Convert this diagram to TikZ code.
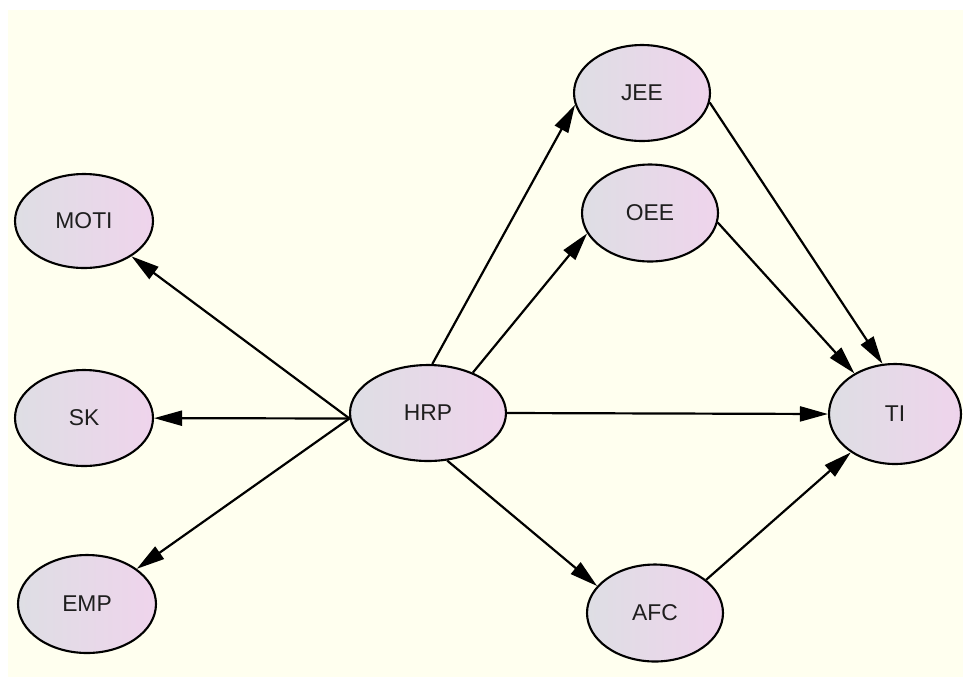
\documentclass[tikz,border=0pt]{standalone}
\usepackage{fontspec}
\setmainfont{Liberation Sans}
\usetikzlibrary{arrows.meta,shapes.geometric}

\definecolor{paper}{RGB}{255,255,239}
\definecolor{nodeleft}{RGB}{222,222,228}
\definecolor{noderight}{RGB}{239,212,236}
\definecolor{labelgray}{RGB}{30,30,30}

\tikzset{
  latent/.style={ellipse, draw=black, line width=1.2pt,
    left color=nodeleft, right color=noderight,
    inner sep=0pt, text=labelgray, font=\fontsize{13}{15}\selectfont},
  path/.style={draw=black, line width=1.25pt,
    -{Triangle[length=0.56cm, width=0.3cm]}},
}

\begin{document}
\begin{tikzpicture}[x=0.02cm, y=-0.02cm]
  % page and canvas
  \useasboundingbox (0,0) rectangle (963,677);
  \fill[white] (0,0) rectangle (963,677);
  \fill[paper] (8,10) rectangle (963,677);

  % constructs
  \node[latent, minimum width=2.76cm, minimum height=1.88cm] (MOTI) at (84,221) {MOTI};
  \node[latent, minimum width=2.76cm, minimum height=1.92cm] (SK)   at (84,418) {SK};
  \node[latent, minimum width=2.76cm, minimum height=1.96cm] (EMP)  at (87,604) {EMP};
  \node[latent, minimum width=3.12cm, minimum height=1.92cm] (HRP)  at (428,413) {HRP};
  \node[latent, minimum width=2.72cm, minimum height=1.92cm] (JEE)  at (642,93) {JEE};
  \node[latent, minimum width=2.72cm, minimum height=1.94cm] (OEE)  at (650,213) {OEE};
  \node[latent, minimum width=2.64cm, minimum height=2.00cm] (TI)   at (895,414) {TI};
  \node[latent, minimum width=2.72cm, minimum height=1.94cm] (AFC)  at (655,613) {AFC};

  % paths from HRP to the left-hand constructs
  \draw[path] (HRP.184) -- (MOTI);
  \draw[path] (HRP.184) -- (SK);
  \draw[path] (HRP.184) -- (EMP);

  % paths from HRP to the mediators and to TI
  \draw[path] (HRP.85)  -- (JEE.190);
  \draw[path] (HRP.42)  -- (OEE.198);
  \draw[path] (HRP.east) -- (TI.west);
  \draw[path] (HRP.-68) -- (AFC.155);

  % paths from the mediators to TI
  \draw[path] (JEE.-8) -- (TI.104);
  \draw[path] (OEE.-8) -- (TI.135);
  \draw[path] (AFC.33) -- (TI.221);
\end{tikzpicture}
\end{document}
